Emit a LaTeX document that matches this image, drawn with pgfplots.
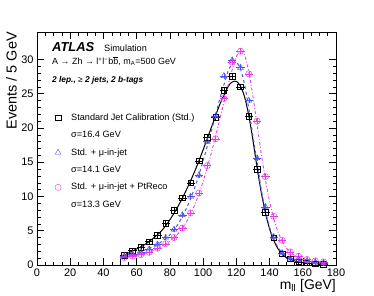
\documentclass[border=0pt]{standalone}
\usepackage{fontspec}
\setmainfont{Liberation Sans}
\usepackage{pgfplots}
\pgfplotsset{compat=1.18}
\definecolor{rblue}{RGB}{80,80,235}
\definecolor{rmag}{RGB}{230,60,230}
\begin{document}
\begin{tikzpicture}
\begin{axis}[
 scale only axis, width=299bp, height=233bp,
 xmin=0, xmax=180, ymin=0, ymax=34,
 xtick={0,20,...,180}, ytick={0,5,...,30},
 minor x tick num=3, minor y tick num=4,
 tick align=inside, xtick pos=both, ytick pos=both,
 major tick length=7bp, minor tick length=3.5bp,
 tick style={black, line width=0.5pt},
 axis line style={line width=0.6pt},
 ticklabel style={font=\fontsize{11}{11}\selectfont},
 /pgf/number format/assume math mode=true,
 xlabel={m\textsubscript{ll} [GeV]},
 ylabel={Events / 5 GeV},
 xlabel style={at={(axis description cs:1,-0.06)}, anchor=north east, inner sep=0pt, font=\fontsize{14}{14}\selectfont},
 ylabel style={at={(axis description cs:-0.067,1)}, anchor=south east, inner sep=0pt, font=\fontsize{14.5}{14.5}\selectfont},
 legend style={draw=none, fill=none, at={(axis cs:8.6,22.6)}, anchor=north west,
   font=\fontsize{9.2}{9.2}\selectfont, row sep=6.4bp,
   nodes={inner sep=1pt, text height=7bp, text depth=2bp}},
 legend cell align=left,
 legend image code/.code={\path (-0.12cm,0cm) (0.42cm,0cm); \draw[#1] plot coordinates {(0cm,0cm)};},
]
\addlegendimage{only marks, mark=square, black, mark size=2.8bp}
\addlegendentry{Standard Jet Calibration (Std.)}
\addlegendimage{empty legend}
\addlegendentry{σ=16.4 GeV}
\addlegendimage{only marks, mark=triangle, rblue, mark size=3.3bp}
\addlegendentry{Std. + μ-in-jet}
\addlegendimage{empty legend}
\addlegendentry{σ=14.1 GeV}
\addlegendimage{only marks, mark=o, rmag, mark size=3.1bp}
\addlegendentry{Std. + μ-in-jet + PtReco}
\addlegendimage{empty legend}
\addlegendentry{σ=13.3 GeV}

% fitted curves
\addplot[black, line width=0.6pt, forget plot] coordinates {(50,0) (50,1.2)};
\addplot[black, line width=1pt, smooth, forget plot] table {
50 1.2
55 1.75
60 2.35
65 3.0
70 3.9
75 5.0
80 6.6
85 8.6
90 11.0
95 13.7
100 16.8
105 20.1
110 23.4
115 26.0
117.5 26.7
120 26.8
122.5 26.1
125 24.5
127.5 21.8
130 18.2
132.5 14.2
135 10.6
137.5 7.6
140 5.3
142.5 3.6
145 2.4
147.5 1.6
150 1.1
155 0.6
160 0.35
165 0.22
170 0.15
175 0.11
};
\addplot[rblue, line width=1pt, dashed, smooth, forget plot] table {
50 1.1
55 1.45
60 1.8
65 2.2
70 2.7
75 3.4
80 4.4
85 6.0
90 8.3
95 11.3
100 15.2
105 19.6
110 24.2
115 28.2
117.5 29.4
120 29.6
122.5 28.6
125 26.3
127.5 22.8
130 18.8
132.5 15.0
135 11.0
137.5 7.9
140 5.5
142.5 3.8
145 2.6
147.5 1.8
150 1.3
155 0.85
160 0.6
165 0.45
170 0.33
175 0.26
};
\addplot[rmag, line width=0.9pt, dash dot, smooth, forget plot] table {
50 0.95
55 1.15
60 1.4
65 1.7
70 2.1
75 2.7
80 3.5
85 4.6
90 6.3
95 8.8
100 12.2
105 16.4
110 21.2
115 26.2
117.5 28.5
120 30.4
122.5 31.3
125 30.6
127.5 28.2
130 24.6
132.5 20.5
135 16.3
137.5 12.5
140 9.3
142.5 6.8
145 4.9
147.5 3.5
150 2.5
155 1.4
160 0.9
165 0.62
170 0.47
175 0.38
};

% data points
\addplot[only marks, mark=square, black, mark size=2.8bp, line width=0.5pt, forget plot,
  error bars/.cd, x dir=both, x fixed=2.5, y dir=both, y fixed=0.4,
  error bar style={black, line width=0.5pt}, error mark=none] table {
52.5 1.43
57.5 2.1
62.5 2.6
67.5 3.4
72.5 4.3
77.5 6.1
82.5 8.0
87.5 9.8
92.5 12.0
97.5 15.2
102.5 18.6
107.5 21.6
112.5 25.5
117.5 27.5
122.5 26.0
127.5 21.7
132.5 14.0
137.5 7.7
142.5 4.0
147.5 1.67
152.5 0.94
157.5 0.45
162.5 0.3
167.5 0.2
172.5 0.15
};
\addplot[only marks, mark=triangle, rblue, mark size=3.3bp, line width=0.5pt, forget plot,
  error bars/.cd, x dir=both, x fixed=2.5, y dir=both, y fixed=0.4,
  error bar style={rblue, line width=0.5pt}, error mark=none] table {
52.5 1.3
57.5 1.6
62.5 1.9
67.5 2.3
72.5 3.0
77.5 4.0
82.5 5.2
87.5 7.3
92.5 10.0
97.5 13.1
102.5 18.0
107.5 21.7
112.5 27.6
117.5 29.9
122.5 28.8
127.5 24.0
132.5 15.6
137.5 8.5
142.5 4.1
147.5 1.76
152.5 0.95
157.5 0.8
162.5 0.6
167.5 0.45
172.5 0.31
};
\addplot[only marks, mark=o, rmag, mark size=3.1bp, line width=0.5pt, forget plot,
  error bars/.cd, x dir=both, x fixed=2.5, y dir=both, y fixed=0.4,
  error bar style={rmag, line width=0.5pt}, error mark=none] table {
52.5 1.1
57.5 1.3
62.5 1.5
67.5 1.85
72.5 2.45
77.5 3.1
82.5 4.0
87.5 5.4
92.5 7.6
97.5 10.5
102.5 14.5
107.5 18.4
112.5 24.3
117.5 29.6
122.5 31.2
127.5 27.9
132.5 21.0
137.5 12.9
142.5 7.1
147.5 3.6
152.5 1.9
157.5 1.28
162.5 0.8
167.5 0.6
172.5 0.45
};

\node[anchor=base west, inner sep=0pt, font=\fontsize{13}{13}\selectfont\bfseries\itshape] at (axis cs:9,31.1) {ATLAS};
\node[anchor=base west, inner sep=0pt, font=\fontsize{9.2}{9.2}\selectfont] at (axis cs:40.3,31.1) {Simulation};
\node[anchor=base west, inner sep=0pt, font=\fontsize{9}{9}\selectfont] at (axis cs:9,29.2)
  {A → Zh → l\textsuperscript{+}l\textsuperscript{−}b$\overline{\mbox{b}}$, m\textsubscript{A}=500 GeV};
\node[anchor=base west, inner sep=0pt, font=\fontsize{8.4}{8.4}\selectfont\bfseries\itshape] at (axis cs:9,26.6)
  {2 lep., \textmd{\upshape ≥} 2 jets, 2 b-tags};
\end{axis}
\path (current axis.south west) ++(-37bp,-31bp) rectangle ++(374bp,296bp);
\end{tikzpicture}
\end{document}
